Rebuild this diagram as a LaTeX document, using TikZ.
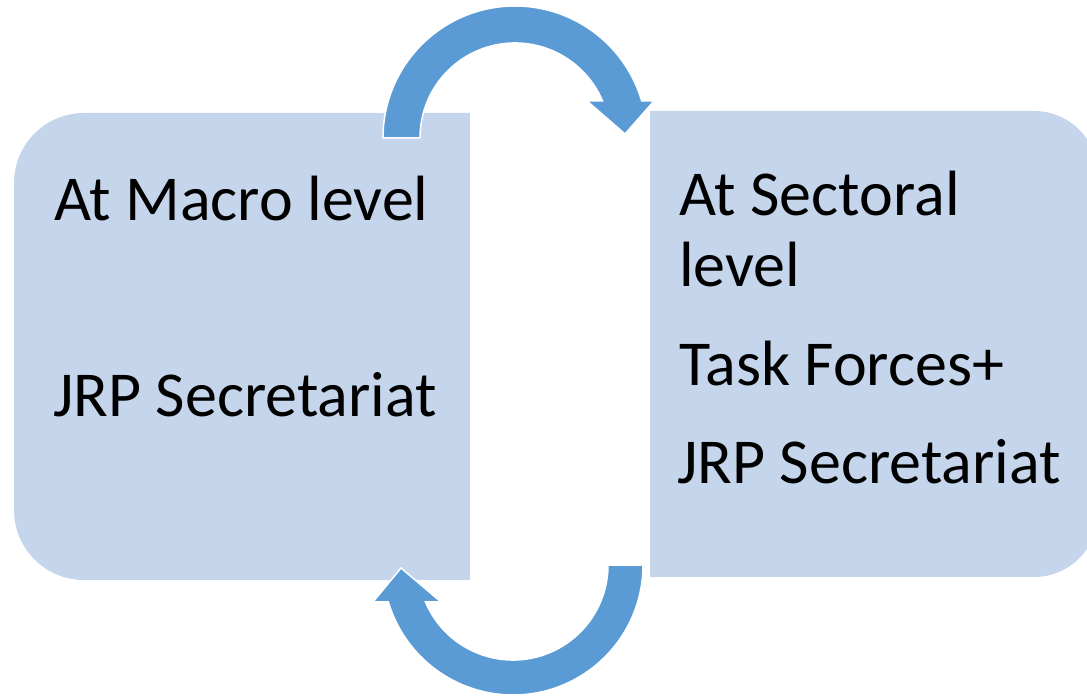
\documentclass[tikz,border=0pt]{standalone}
\usepackage{fontspec}
\setmainfont{Carlito}
\definecolor{boxblue}{RGB}{197,213,235}
\definecolor{arrowblue}{RGB}{91,155,213}
\tikzset{
  boxfill/.style={fill=boxblue, draw=none},
  arrowfill/.style={fill=arrowblue, draw=white, line width=1.5pt, line join=miter},
  lbl/.style={anchor=base west, inner sep=0pt, font=\fontsize{64}{70}\selectfont, text=black}
}
\begin{document}
\begin{tikzpicture}[x=1pt,y=1pt]
\useasboundingbox (0,0) rectangle (1087,696);
% left box
\path[boxfill] (470,116) -- (84,116) arc[start angle=270,end angle=180,radius=70]
  -- (14,513) arc[start angle=180,end angle=90,radius=70] -- (470,583) -- cycle;
% right box
\path[boxfill] (650,119) -- (1034,119) arc[start angle=-90,end angle=0,radius=64]
  -- (1098,521) arc[start angle=0,end angle=90,radius=64] -- (650,585) -- cycle;
% top arrow
\path[arrowfill] (383,558) arc[start angle=180,end angle=16.3,radius=132]
  -- (654,595) -- (625,562) -- (587,595) -- (602.5,595)
  arc[start angle=22.9,end angle=180,radius=95] -- cycle;
% bottom arrow
\path[arrowfill] (643,131) arc[start angle=0,end angle=-163.5,radius=130]
  -- (373,94) -- (401,128) -- (441,94) -- (425.5,94)
  arc[start angle=-157.1,end angle=0,radius=95] -- cycle;
% texts
\node[lbl] (macro) at (54,475) {At Macro level};
\node[lbl] (jrpL) at (53,279) {JRP Secretariat};
\node[lbl] (sect) at (679,480) {At Sectoral};
\node[lbl] (lev) at (679,409) {level};
\node[lbl] (task) at (679,310) {Task Forces+};
\node[lbl] (jrpR) at (677,212) {JRP Secretariat};
\end{tikzpicture}
\end{document}
